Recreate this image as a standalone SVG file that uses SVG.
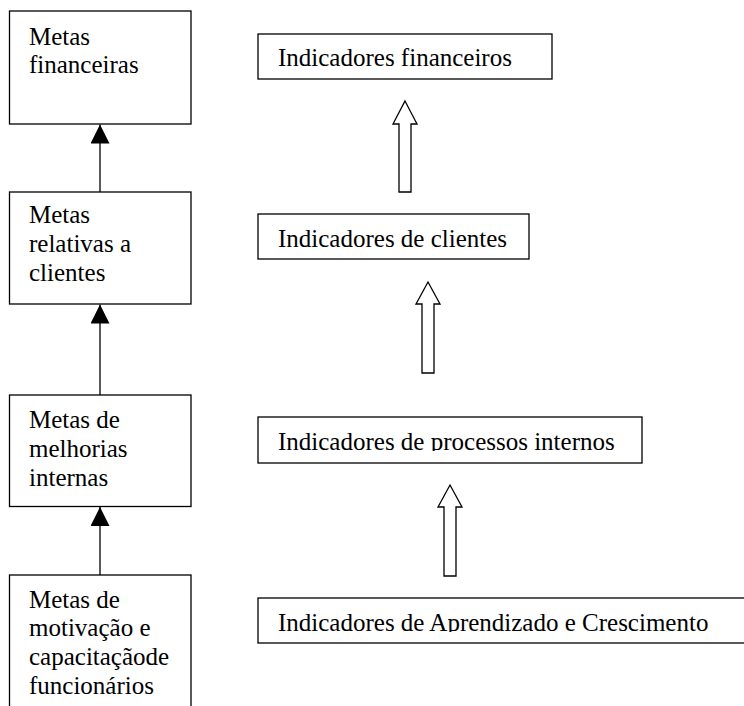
<svg xmlns="http://www.w3.org/2000/svg" width="744" height="706" viewBox="0 0 744 706">
  <defs>
    <style>
      .box { fill: #ffffff; stroke: #000000; stroke-width: 1.3; }
      .lbl { font-family: "Liberation Serif", "Times New Roman", serif; font-size: 25px; fill: #000000; }
      .link { stroke: #000000; stroke-width: 1.3; fill: none; }
      .hollow { fill: #ffffff; stroke: #000000; stroke-width: 1.3; stroke-linejoin: miter; }
    </style>
    <!-- filled triangular head, tip at the line end -->
    <marker id="solidHead" viewBox="0 0 19 19" refX="19" refY="9.5" markerWidth="19" markerHeight="19" markerUnits="userSpaceOnUse" orient="auto">
      <path d="M0,0 L19,9.5 L0,19 Z" fill="#000000"/>
    </marker>
    <clipPath id="clipProc"><rect x="258" y="417" width="384" height="34"/></clipPath>
    <clipPath id="clipAprend"><rect x="258" y="598" width="500" height="34"/></clipPath>
  </defs>

  <rect width="744" height="706" fill="#ffffff"/>

  <!-- left column: goals -->
  <g id="metas-financeiras">
    <rect class="box" x="9.5" y="11" width="181.5" height="113"/>
    <text class="lbl" x="29" y="45">Metas</text>
    <text class="lbl" x="29" y="73">financeiras</text>
  </g>

  <g id="metas-clientes">
    <rect class="box" x="9.5" y="192" width="181.5" height="112"/>
    <text class="lbl" x="29" y="223">Metas</text>
    <text class="lbl" x="29" y="252">relativas a</text>
    <text class="lbl" x="29" y="280.5">clientes</text>
  </g>

  <g id="metas-melhorias">
    <rect class="box" x="9.5" y="395" width="181.5" height="111.5"/>
    <text class="lbl" x="29" y="427.5">Metas de</text>
    <text class="lbl" x="29" y="457">melhorias</text>
    <text class="lbl" x="29" y="486">internas</text>
  </g>

  <g id="metas-motivacao">
    <rect class="box" x="9.5" y="575" width="181.5" height="150"/>
    <text class="lbl" x="29" y="607.5">Metas de</text>
    <text class="lbl" x="29" y="636">motivação e</text>
    <text class="lbl" x="29" y="664.5">capacitaçãode</text>
    <text class="lbl" x="29" y="693.5">funcionários</text>
  </g>

  <!-- right column: indicators -->
  <g id="ind-financeiros">
    <rect class="box" x="258" y="34" width="294" height="45"/>
    <text class="lbl" x="278" y="66">Indicadores financeiros</text>
  </g>

  <g id="ind-clientes">
    <rect class="box" x="258" y="214" width="271" height="45"/>
    <text class="lbl" x="278" y="246.5">Indicadores de clientes</text>
  </g>

  <g id="ind-processos">
    <rect class="box" x="258" y="417" width="384" height="46"/>
    <text class="lbl" x="278" y="450" clip-path="url(#clipProc)">Indicadores de processos internos</text>
  </g>

  <g id="ind-aprendizado">
    <rect class="box" x="258" y="598" width="500" height="45"/>
    <text class="lbl" x="278" y="631" clip-path="url(#clipAprend)">Indicadores de Aprendizado e Crescimento</text>
  </g>

  <!-- connectors -->
  <g id="connectors">
    <line class="link" x1="100" y1="192" x2="100" y2="124.5" marker-end="url(#solidHead)"/>
    <line class="link" x1="100" y1="395" x2="100" y2="304.5" marker-end="url(#solidHead)"/>
    <line class="link" x1="100" y1="575" x2="100" y2="507" marker-end="url(#solidHead)"/>

    <polygon class="hollow" points="405,101 417,124 411,124 411,192 399,192 399,124 393,124"/>
    <polygon class="hollow" points="428,282 440,304 434,304 434,373 422,373 422,304 416,304"/>
    <polygon class="hollow" points="450,485 462,507 456,507 456,576 444,576 444,507 438,507"/>
  </g>
</svg>
